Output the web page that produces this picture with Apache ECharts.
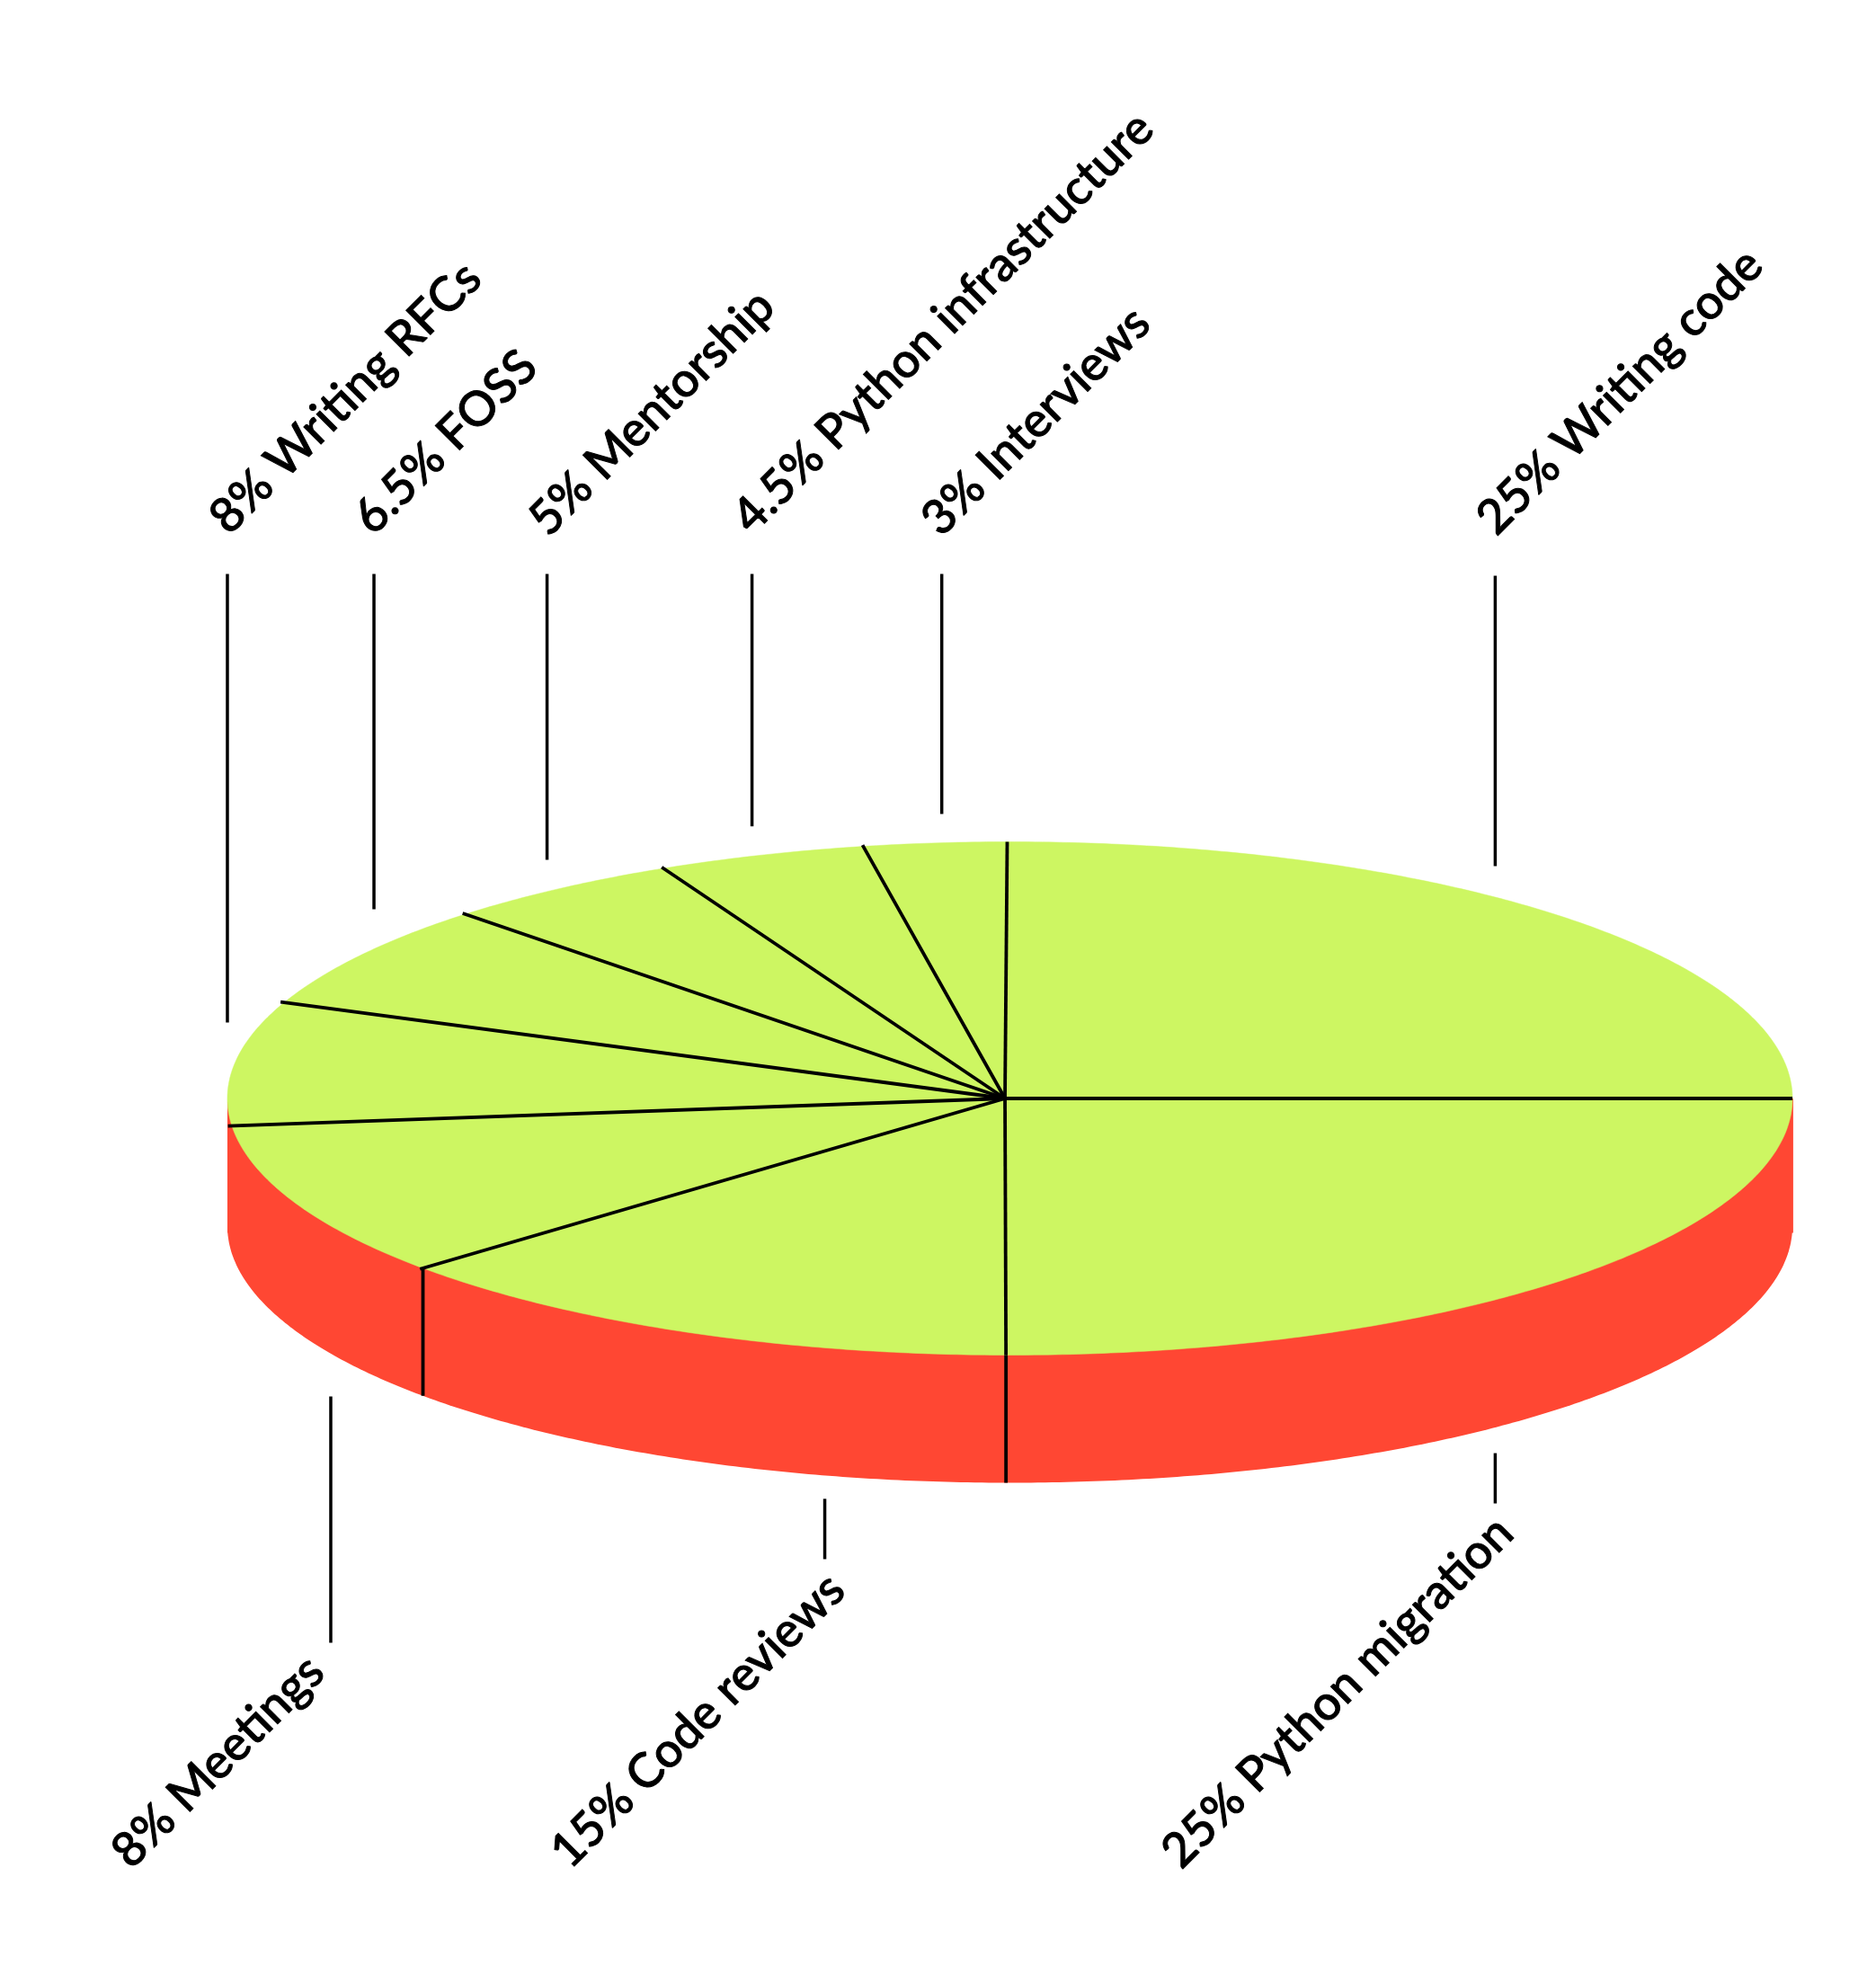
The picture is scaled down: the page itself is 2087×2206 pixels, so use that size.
<!DOCTYPE html>
<html>
<head>
<meta charset="utf-8">
<style>html,body{margin:0;padding:0;background:#fff}#c{width:2087px;height:2206px}</style>
<script src="https://cdn.jsdelivr.net/npm/echarts@6/dist/echarts.min.js"></script>
</head>
<body>
<div id="c"></div>
<script>
// Printed label text and percentages, clockwise from the top of the disc
const categories = ['Writing code', 'Python migration', 'Code reviews', 'Meetings', 'Writing RFCs', 'FOSS', 'Mentorship', 'Python infrastructure', 'Interviews'];
const printedShares = [25, 25, 15, 8, 8, 6.5, 5, 4.5, 3];
// Wedge sizes as measured on the picture (they differ a little from the printed numbers)
const firstBoundary = -0.055;
const drawnShares = [25.055, 25.08, 13.42, 9.8, 7.8, 6.65, 4.95, 4.3, 2.945];
// Axis units: rim of the disc is at +-1 on both axes
const labelX = [0.6076, 0.2050, -0.5761, -1.1368, -1.0118, -0.8276, -0.6037, -0.3435, -0.1020];
const labelY = [2.230, -2.965, -2.965, -2.965, 2.234, 2.232, 2.226, 2.235, 2.226];
const leaderX = [0.6202, 0.6202, -0.2366, -0.8679, -1.0, -0.8127, -0.5915, -0.3296, -0.0871];
const leaderFrom = [2.037, -1.382, -1.560, -1.161, 2.044, 2.044, 2.044, 2.044, 2.044];
const leaderTo = [0.905, -1.578, -1.795, -2.121, 0.296, 0.737, 0.930, 1.060, 1.109];
const hub = [-0.0063, 0];
const sideDepth = 0.4974;
const sideRectDepth = 0.5237;
const sideRuleBoundaries = [2, 3]; // wedge boundaries with a rule down the red wall

const GREEN = '#CDF662', RED = '#FF4733', INK = '#000000';
const TAU = Math.PI * 2;
const cum = [firstBoundary];
drawnShares.forEach(function (v) { cum.push(cum[cum.length - 1] + v); });
function rim(pct) { // pct clockwise from top
  const a = pct / 100 * TAU;
  return [Math.sin(a), Math.cos(a)];
}
function arc(api, from, to, dy) {
  const n = Math.max(2, Math.ceil(Math.abs(to - from) * 7));
  const out = [];
  for (let i = 0; i <= n; i++) {
    const r = rim(from + (to - from) * i / n);
    out.push(api.coord([r[0], r[1] - (dy || 0)]));
  }
  return out;
}

const option = {
  animation: false,
  backgroundColor: '#ffffff',
  tooltip: { show: false },
  grid: { left: 0, right: 0, top: 0, bottom: 0, containLabel: false },
  xAxis: { type: 'value', show: false, min: -1.2906, max: 1.1068, scale: true },
  yAxis: { type: 'value', show: false, min: -3.4466, max: 4.2802, scale: true },
  series: [
    {
      type: 'custom', name: 'Side wall', coordinateSystem: 'cartesian2d', clip: false, silent: true, z: 1,
      data: [[0, 0]],
      renderItem: function (params, api) {
        return {
          type: 'group',
          children: [
            { type: 'polygon', shape: { points: [
                api.coord([-1, 0]), api.coord([1.001, 0]),
                api.coord([1.001, -sideRectDepth]), api.coord([-1, -sideRectDepth])
              ] }, style: { fill: RED } },
            { type: 'polygon', shape: { points: arc(api, 25, 75, sideDepth) }, style: { fill: RED } }
          ]
        };
      }
    },
    {
      type: 'custom', name: 'Wedges', coordinateSystem: 'cartesian2d', clip: false, silent: true, z: 2,
      data: drawnShares.map(function (v, i) { return [i, v]; }),
      renderItem: function (params, api) {
        const i = params.dataIndex;
        const pts = [api.coord(hub)].concat(arc(api, cum[i], cum[i + 1]));
        return { type: 'polygon', shape: { points: pts }, style: { fill: GREEN, stroke: GREEN, lineWidth: 0.5 } };
      }
    },
    {
      type: 'custom', name: 'Spokes', coordinateSystem: 'cartesian2d', clip: false, silent: true, z: 3,
      data: drawnShares.map(function (v, i) { return [i, v]; }),
      renderItem: function (params, api) {
        const i = params.dataIndex;
        const c = api.coord(hub);
        const r0 = rim(cum[i]);
        const over = cum[i] > 55 ? 1.005 : 1; // left-hand spokes run slightly past the rim
        const e = api.coord([r0[0] * over, r0[1] * over]);
        const kids = [{ type: 'line', shape: { x1: c[0], y1: c[1], x2: e[0], y2: e[1] },
          style: { stroke: INK, lineWidth: 3.8, lineCap: 'butt' } }];
        if (sideRuleBoundaries.indexOf(i) >= 0) {
          const a = api.coord(r0), b = api.coord([r0[0], r0[1] - sideDepth]);
          kids.push({ type: 'line', shape: { x1: a[0], y1: a[1], x2: b[0], y2: b[1] },
            style: { stroke: INK, lineWidth: 3.8, lineCap: 'butt' } });
        }
        return { type: 'group', children: kids };
      }
    },
    {
      type: 'custom', name: 'Leaders', coordinateSystem: 'cartesian2d', clip: false, silent: true, z: 4,
      data: leaderX.map(function (x, i) { return [x, leaderFrom[i], leaderTo[i]]; }),
      renderItem: function (params, api) {
        const a = api.coord([api.value(0), api.value(1)]);
        const b = api.coord([api.value(0), api.value(2)]);
        return { type: 'line', shape: { x1: a[0], y1: a[1], x2: b[0], y2: b[1] }, style: { stroke: INK, lineWidth: 3.5 } };
      }
    },
    {
      type: 'custom', name: 'Labels', coordinateSystem: 'cartesian2d', clip: false, silent: true, z: 5,
      data: labelX.map(function (x, i) { return [x, labelY[i], i]; }),
      renderItem: function (params, api) {
        const i = params.dataIndex;
        const p = api.coord([labelX[i], labelY[i]]);
        return {
          type: 'text', x: p[0], y: p[1], rotation: Math.PI / 4,
          style: {
            text: printedShares[i] + '% ' + categories[i],
            fill: INK, stroke: INK, lineWidth: 1, textAlign: 'left', textVerticalAlign: 'middle',
            font: '500 53.5px Lato'
          }
        };
      }
    }
  ]
};
echarts.init(document.getElementById('c'), null, { renderer: 'canvas' }).setOption(option);
</script>
</body>
</html>
